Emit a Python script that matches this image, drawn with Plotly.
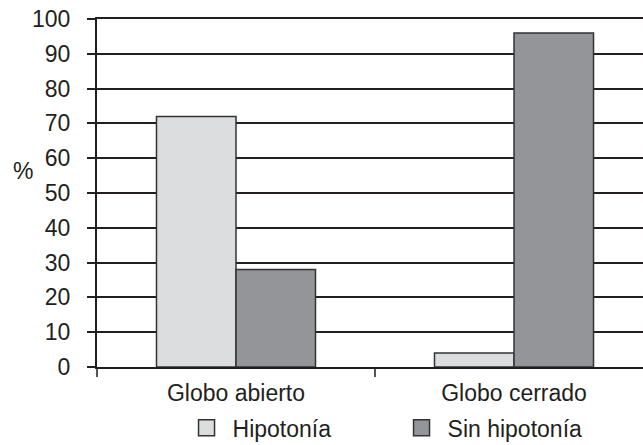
import plotly.graph_objects as go

categories = ["Globo abierto", "Globo cerrado"]
hipotonia = [72, 4]
sin_hipotonia = [28, 96]
series_names = ["Hipotonía", "Sin hipotonía"]
colors = ["#dcdddf", "#939598"]
y_ticks = list(range(0, 101, 10))

FONT = "Liberation Sans, Arial, sans-serif"
INK = "#231f20"

fig = go.Figure()
for name, vals, col in zip(series_names, [hipotonia, sin_hipotonia], colors):
    fig.add_trace(go.Bar(x=categories, y=vals, name=name, showlegend=False,
                         marker=dict(color=col, line=dict(color="#333333", width=1.5))))
# legend entries with larger square symbols
for name, col in zip(series_names, colors):
    fig.add_trace(go.Scatter(x=[None], y=[None], mode="markers", name=name,
                             marker=dict(symbol="square", size=16, color=col,
                                         line=dict(color="#333333", width=1.5))))

fig.update_layout(
    width=643, height=445,
    margin=dict(l=97, r=0, t=19, b=78, autoexpand=False),
    paper_bgcolor="white", plot_bgcolor="white",
    barmode="group", bargap=0.428, bargroupgap=0,
    font=dict(family=FONT, size=23, color=INK),
    showlegend=True,
    legend=dict(orientation="h", x=0.153, xanchor="left", y=-0.175, yanchor="middle",
                itemsizing="trace", itemwidth=42, entrywidth=158, entrywidthmode="pixels",
                font=dict(size=23, color=INK)),
    xaxis=dict(type="category", categoryorder="array", categoryarray=categories,
               range=[-0.5, 1.464], tickson="boundaries", ticks="outside",
               ticklen=8, tickwidth=2, tickcolor="#555555", automargin=False,
               showline=True, linecolor=INK, linewidth=2, mirror=True,
               ticklabelstandoff=4,
               showgrid=False, tickfont=dict(size=23, color=INK)),
    yaxis=dict(range=[0, 100], tickmode="array", tickvals=y_ticks,
               ticks="outside", ticklen=8, tickwidth=1.5, tickcolor=INK,
               showline=True, linecolor=INK, linewidth=2, automargin=False,
               showgrid=True, gridcolor=INK, gridwidth=1.5, zeroline=False,
               ticklabelstandoff=12, tickfont=dict(size=23, color=INK)),
    annotations=[dict(text="%", xref="paper", yref="paper", x=-0.1355, y=0.564,
                      xanchor="center", yanchor="middle",
                      showarrow=False, font=dict(size=23, color=INK))],
)

fig.write_html("out.html", config={"displayModeBar": False},
               post_script="document.body.style.margin='0';document.body.style.padding='0';")
